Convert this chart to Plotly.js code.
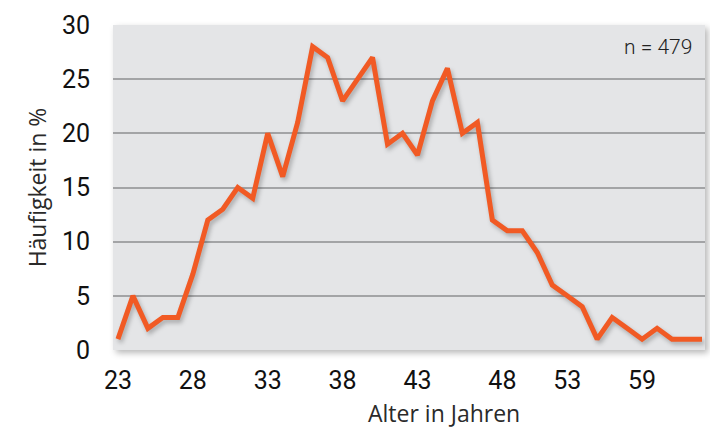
<!DOCTYPE html>
<html>
<head>
<meta charset="utf-8">
<script src="https://cdn.plot.ly/plotly-3.0.1.min.js"></script>
<style>
html,body{margin:0;padding:0;background:#fff;}
#chart{width:710px;height:430px;}
#chart .bglayer rect{filter:drop-shadow(3px 3px 3px rgba(0,0,0,0.28));}
#chart .scatterlayer .js-line{filter:drop-shadow(2px 3px 2px rgba(0,0,0,0.25));}
</style>
</head>
<body>
<div id="chart"></div>
<script>
// Data
const ages = [23,24,25,26,27,28,29,30,31,32,33,34,35,36,37,38,39,40,41,42,
              43,44,45,46,47,48,49,50,51,52,53,54,55,56,57,58,59,60,61,62];
const counts = [1,5,2,3,3,7,12,13,15,14,20,16,21,28,27,23,25,27,19,20,
                18,23,26,20,21,12,11,11,9,6,5,4,1,3,2,1,2,1,1,1];
const xTickVals = [23,28,33,38,43,48.67,53,58];
const xTickText = ['23','28','33','38','43','48','53','59'];
const yTickVals = [0,5,10,15,20,25,30];
const xTitle = 'Alter in Jahren';
const yTitle = 'Häufigkeit in %';
const nLabel = 'n = 479';

const FONT = 'Roboto, "DejaVu Sans", sans-serif';
const TFONT = '"Open Sans", Roboto, sans-serif';

const trace = {
  x: ages, y: counts, type: 'scatter', mode: 'lines',
  line: {color: '#f15a24', width: 5},
  hoverinfo: 'skip'
};

const layout = {
  width: 710, height: 430,
  margin: {l: 113, r: 5, t: 25, b: 80, pad: 0},
  paper_bgcolor: '#ffffff',
  plot_bgcolor: '#e4e5e7',
  showlegend: false,
  font: {family: FONT, color: '#111'},
  xaxis: {
    range: [22.67, 62.2],
    tickvals: xTickVals, ticktext: xTickText,
    showgrid: false, zeroline: false, showline: false,
    ticks: '', ticklabelstandoff: 13,
    tickfont: {family: FONT, size: 25, color: '#111'}
  },
  yaxis: {
    range: [0, 30],
    tickvals: yTickVals,
    showgrid: true, gridcolor: '#a3a4a6', gridwidth: 2,
    zeroline: false, showline: false,
    ticks: '', ticklabelstandoff: 22,
    tickfont: {family: FONT, size: 25, color: '#111'},
    title: {text: yTitle, standoff: 8,
            font: {family: TFONT, size: 23, color: '#2a2a2a'}}
  },
  annotations: [{
    xref: 'paper', yref: 'paper', x: 0.559, y: -0.193,
    xanchor: 'center', yanchor: 'middle', showarrow: false,
    text: xTitle, font: {family: TFONT, size: 23, color: '#2a2a2a'}
  }, {
    xref: 'paper', yref: 'paper', x: 0.981, y: 0.975,
    xanchor: 'right', yanchor: 'top', showarrow: false,
    text: nLabel, font: {family: FONT, size: 21, color: '#222', weight: 300}
  }]
};

Plotly.newPlot('chart', [trace], layout, {displayModeBar: false, staticPlot: true});
</script>
</body>
</html>
